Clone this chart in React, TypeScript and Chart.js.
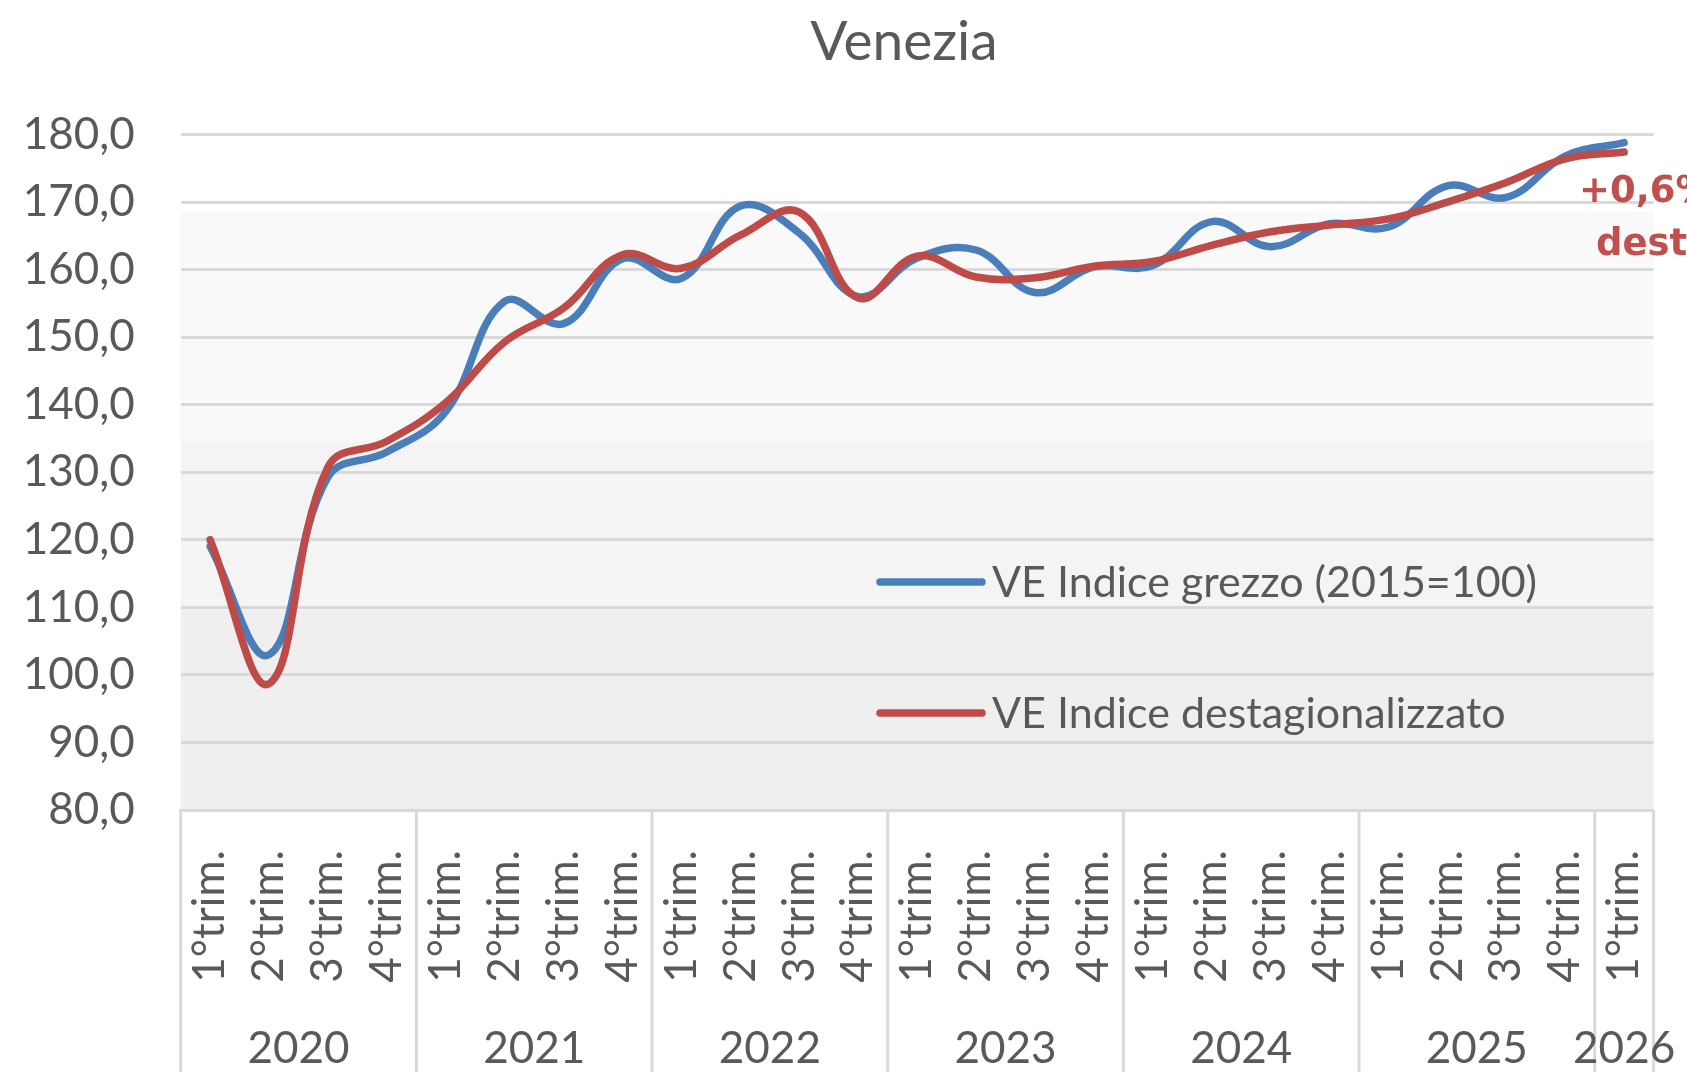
import React, { useEffect, useRef } from "react";
import { Chart, registerables } from "chart.js";

Chart.register(...registerables);

// ---- data ----
const quarterLabels = [
  "1°trim.", "2°trim.", "3°trim.", "4°trim.",
  "1°trim.", "2°trim.", "3°trim.", "4°trim.",
  "1°trim.", "2°trim.", "3°trim.", "4°trim.",
  "1°trim.", "2°trim.", "3°trim.", "4°trim.",
  "1°trim.", "2°trim.", "3°trim.", "4°trim.",
  "1°trim.", "2°trim.", "3°trim.", "4°trim.",
  "1°trim.",
];
const yearLabels = ["2020", "2021", "2022", "2023", "2024", "2025", "2026"];
const quartersPerYear = [4, 4, 4, 4, 4, 4, 1];

const grezzo = [
  119.0, 103.0, 129.3, 133.0,
  139.0, 155.3, 152.0, 161.6,
  158.7, 169.4, 165.4, 156.0,
  161.7, 162.9, 156.6, 160.4,
  160.6, 167.1, 163.4, 166.8,
  166.3, 172.4, 170.7, 176.8,
  178.8,
];
const destagionalizzato = [
  120.0, 98.7, 130.8, 134.6,
  140.3, 149.3, 154.3, 162.2,
  160.2, 165.1, 168.5, 155.8,
  162.0, 158.9, 158.8, 160.5,
  161.2, 163.6, 165.6, 166.6,
  167.5, 170.0, 172.9, 176.4,
  177.4,
];
const seriesNames = ["VE Indice grezzo (2015=100)", "VE Indice destagionalizzato"];
const titleText = "Venezia";
const noteLines = ["+0,6%", "destagionalizzato"];
const yTicks = { min: 80, max: 180, step: 10 };
// background shading bands (value ranges) and their fill colours
const bandEdges = [180, 168.5, 134.7, 109.7, 80];
const bandColors = ["#ffffff", "#f9f9f9", "#f4f4f4", "#efefef"];

// ---- style ----
const BLUE = "#4A7EBB";
const RED = "#BE4B48";
const TEXT = "#595959";
const GRID = "#d9d9d9";
const FONT = "Lato";

const W = 1687;
const H = 1072;

const decorPlugin = {
  id: "decor",
  beforeDraw(chart: any) {
    const { ctx, chartArea, scales } = chart;
    const y = scales.y;
    ctx.save();
    ctx.fillStyle = "#ffffff";
    ctx.fillRect(0, 0, chart.width, chart.height);
    for (let i = 0; i < bandColors.length; i++) {
      const top = y.getPixelForValue(bandEdges[i]);
      const bot = y.getPixelForValue(bandEdges[i + 1]);
      ctx.fillStyle = bandColors[i];
      ctx.fillRect(chartArea.left, top, chartArea.right - chartArea.left, bot - top);
    }
    ctx.restore();
  },
  afterDraw(chart: any) {
    const { ctx, chartArea, scales } = chart;
    const x = scales.x;
    const half = (x.getPixelForValue(1) - x.getPixelForValue(0)) / 2;
    ctx.save();
    // year group separators and labels
    ctx.strokeStyle = GRID;
    ctx.lineWidth = 3;
    let start = 0;
    const drawSep = (px: number) => {
      ctx.beginPath();
      ctx.moveTo(px, chartArea.bottom);
      ctx.lineTo(px, chart.height);
      ctx.stroke();
    };
    drawSep(x.getPixelForValue(0) - half);
    ctx.fillStyle = TEXT;
    ctx.font = `44px ${FONT}`;
    ctx.textAlign = "center";
    ctx.textBaseline = "middle";
    quartersPerYear.forEach((count, k) => {
      const left = x.getPixelForValue(start) - half;
      const right = x.getPixelForValue(start + count - 1) + half;
      drawSep(right);
      ctx.fillText(yearLabels[k], (left + right) / 2, 1049);
      start += count;
    });

    // title
    ctx.font = `55px ${FONT}`;
    ctx.fillStyle = TEXT;
    ctx.textAlign = "center";
    ctx.textBaseline = "middle";
    ctx.fillText(titleText, 904, 42);

    // legend (inside plot)
    const legendColors = [BLUE, RED];
    const legendY = [582, 713];
    ctx.lineCap = "round";
    ctx.lineWidth = 7.5;
    ctx.textAlign = "left";
    ctx.font = `43px ${FONT}`;
    seriesNames.forEach((name, i) => {
      ctx.strokeStyle = legendColors[i];
      ctx.beginPath();
      ctx.moveTo(880, legendY[i]);
      ctx.lineTo(982, legendY[i]);
      ctx.stroke();
      ctx.fillStyle = TEXT;
      ctx.fillText(name, 992, legendY[i] + 1);
    });

    // note
    ctx.fillStyle = "#C0504D";
    ctx.font = `bold 37px "DejaVu Sans"`;
    ctx.textBaseline = "alphabetic";
    ctx.textAlign = "left";
    ctx.fillText(noteLines[0], 1579, 202);
    ctx.fillText(noteLines[1], 1596, 255);
    ctx.restore();
  },
};

export default function App() {
  const ref = useRef<HTMLCanvasElement | null>(null);
  useEffect(() => {
    document.body.style.margin = "0";
    document.body.style.overflow = "hidden";
    const canvas = ref.current!;
    const chart = new Chart(canvas, {
      type: "line",
      data: {
        labels: quarterLabels,
        datasets: [
          {
            label: seriesNames[0],
            data: grezzo,
            borderColor: BLUE,
            backgroundColor: BLUE,
            borderWidth: 7.5,
            pointRadius: 0,
            tension: 0.4,
            borderCapStyle: "round",
            borderJoinStyle: "round",
            order: 1,
          },
          {
            label: seriesNames[1],
            data: destagionalizzato,
            borderColor: RED,
            backgroundColor: RED,
            borderWidth: 7.5,
            pointRadius: 0,
            tension: 0.4,
            borderCapStyle: "round",
            borderJoinStyle: "round",
            order: 0,
          },
        ],
      },
      options: {
        animation: false,
        responsive: false,
        devicePixelRatio: 1,
        layout: { padding: { top: 134.5, right: 33.4, bottom: 0, left: 0 } },
        plugins: {
          legend: { display: false },
          title: { display: false },
          tooltip: { enabled: false },
        },
        scales: {
          x: {
            offset: true,
            grid: { display: false, drawTicks: false },
            border: { display: true, color: GRID, width: 3 },
            ticks: {
              autoSkip: false,
              maxRotation: 90,
              minRotation: 90,
              padding: 40,
              color: TEXT,
              font: { family: FONT, size: 44 },
            },
            afterFit(scale: any) {
              scale.height = 262;
              scale.paddingLeft = 0;
              scale.paddingRight = 0;
            },
          },
          y: {
            min: yTicks.min,
            max: yTicks.max,
            grid: { color: GRID, lineWidth: 3, drawTicks: false },
            border: { display: false },
            ticks: {
              stepSize: yTicks.step,
              padding: 46,
              color: TEXT,
              font: { family: FONT, size: 44 },
              callback: (v: any) => Number(v).toFixed(1).replace(".", ","),
            },
            afterFit(scale: any) {
              scale.width = 180.7;
            },
          },
        },
      },
      plugins: [decorPlugin],
    });
    return () => chart.destroy();
  }, []);
  return (
    <canvas
      ref={ref}
      width={W}
      height={H}
      style={{ display: "block", width: W + "px", height: H + "px" }}
    />
  );
}
